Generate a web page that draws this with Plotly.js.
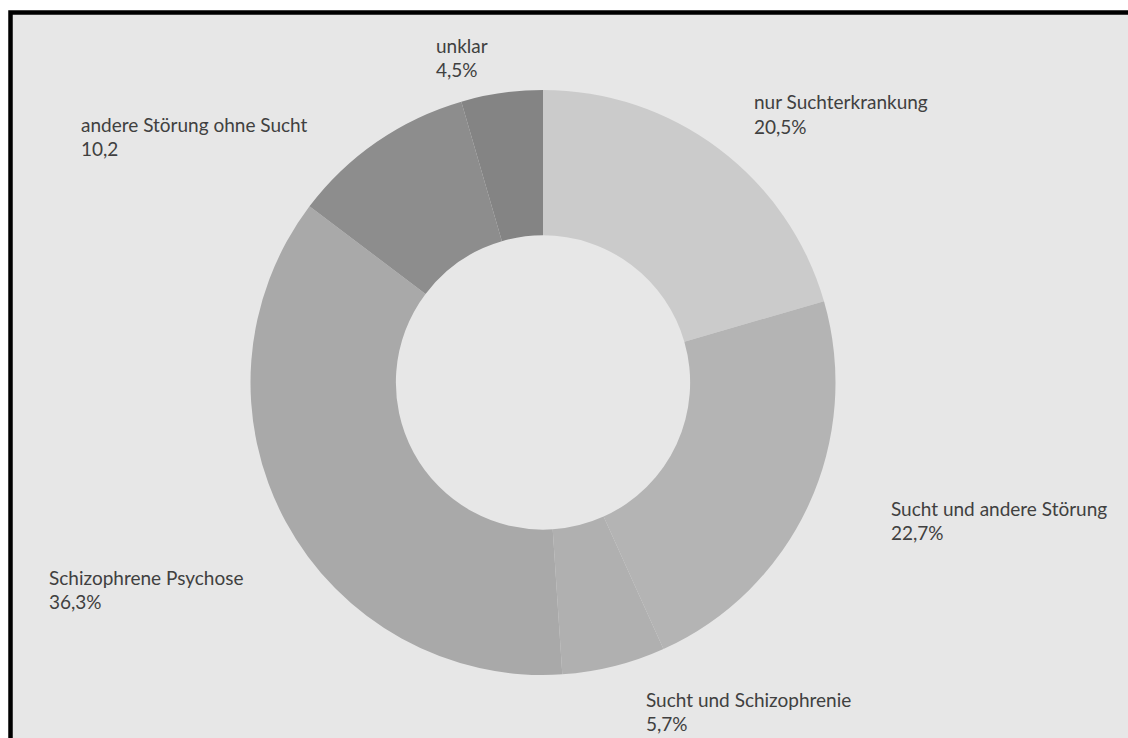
<!DOCTYPE html>
<html>
<head>
<meta charset="utf-8">
<script src="https://cdn.plot.ly/plotly-3.0.1.min.js"></script>
<style>
  html, body { margin: 0; padding: 0; background: #ffffff; }
  #chart { width: 1128px; height: 738px; }
</style>
</head>
<body>
<div id="chart"></div>
<script>
// Data
var categories = [
  "nur Suchterkrankung",
  "Sucht und andere Störung",
  "Sucht und Schizophrenie",
  "Schizophrene Psychose",
  "andere Störung ohne Sucht",
  "unklar"
];
var values = [20.5, 22.7, 5.7, 36.3, 10.2, 4.5];
var valueLabels = ["20,5%", "22,7%", "5,7%", "36,3%", "10,2", "4,5%"];

var sliceColors = ["#cbcbcb", "#b4b4b4", "#b0b0b0", "#a9a9a9", "#8d8d8d", "#848484"];

var W = 1128, H = 738;
var cx = 543, cy = 382.5, R = 292.5;

// label anchor positions in pixels (left edge, center of first line)
var labelPos = [
  [752, 102],
  [889, 508],
  [644, 699],
  [47, 577],
  [79, 124],
  [434, 45]
];
var lineGap = 24.5;

var annotations = [];
for (var i = 0; i < categories.length; i++) {
  var px = labelPos[i][0], py = labelPos[i][1];
  annotations.push({
    xref: "paper", yref: "paper",
    x: px / W, y: 1 - py / H,
    xanchor: "left", yanchor: "middle",
    text: categories[i], showarrow: false,
    font: {family: "Lato, 'Open Sans', sans-serif", size: 19, color: "#404040"}
  });
  annotations.push({
    xref: "paper", yref: "paper",
    x: px / W, y: 1 - (py + lineGap) / H,
    xanchor: "left", yanchor: "middle",
    text: valueLabels[i], showarrow: false,
    font: {family: "Lato, 'Open Sans', sans-serif", size: 19, color: "#404040"}
  });
}

var trace = {
  type: "pie",
  labels: categories,
  values: values,
  sort: false,
  direction: "clockwise",
  rotation: 0,
  hole: 0.503,
  textinfo: "none",
  hoverinfo: "label+percent",
  showlegend: false,
  marker: {colors: sliceColors, line: {color: "#bdbdbd", width: 0}},
  domain: {
    x: [(cx - R) / W, (cx + R) / W],
    y: [1 - (cy + R) / H, 1 - (cy - R) / H]
  }
};

var layout = {
  width: W, height: H,
  margin: {l: 0, r: 0, t: 0, b: 0},
  paper_bgcolor: "#ffffff",
  showlegend: false,
  annotations: annotations,
  shapes: [{
    type: "rect", xref: "paper", yref: "paper", layer: "below",
    x0: 10.5 / W, x1: 1.05, y0: -0.05, y1: 1 - 12.5 / H,
    fillcolor: "#e7e7e7",
    line: {color: "#000000", width: 4.5}
  }]
};

Plotly.newPlot("chart", [trace], layout, {displayModeBar: false, staticPlot: true});
</script>
</body>
</html>
